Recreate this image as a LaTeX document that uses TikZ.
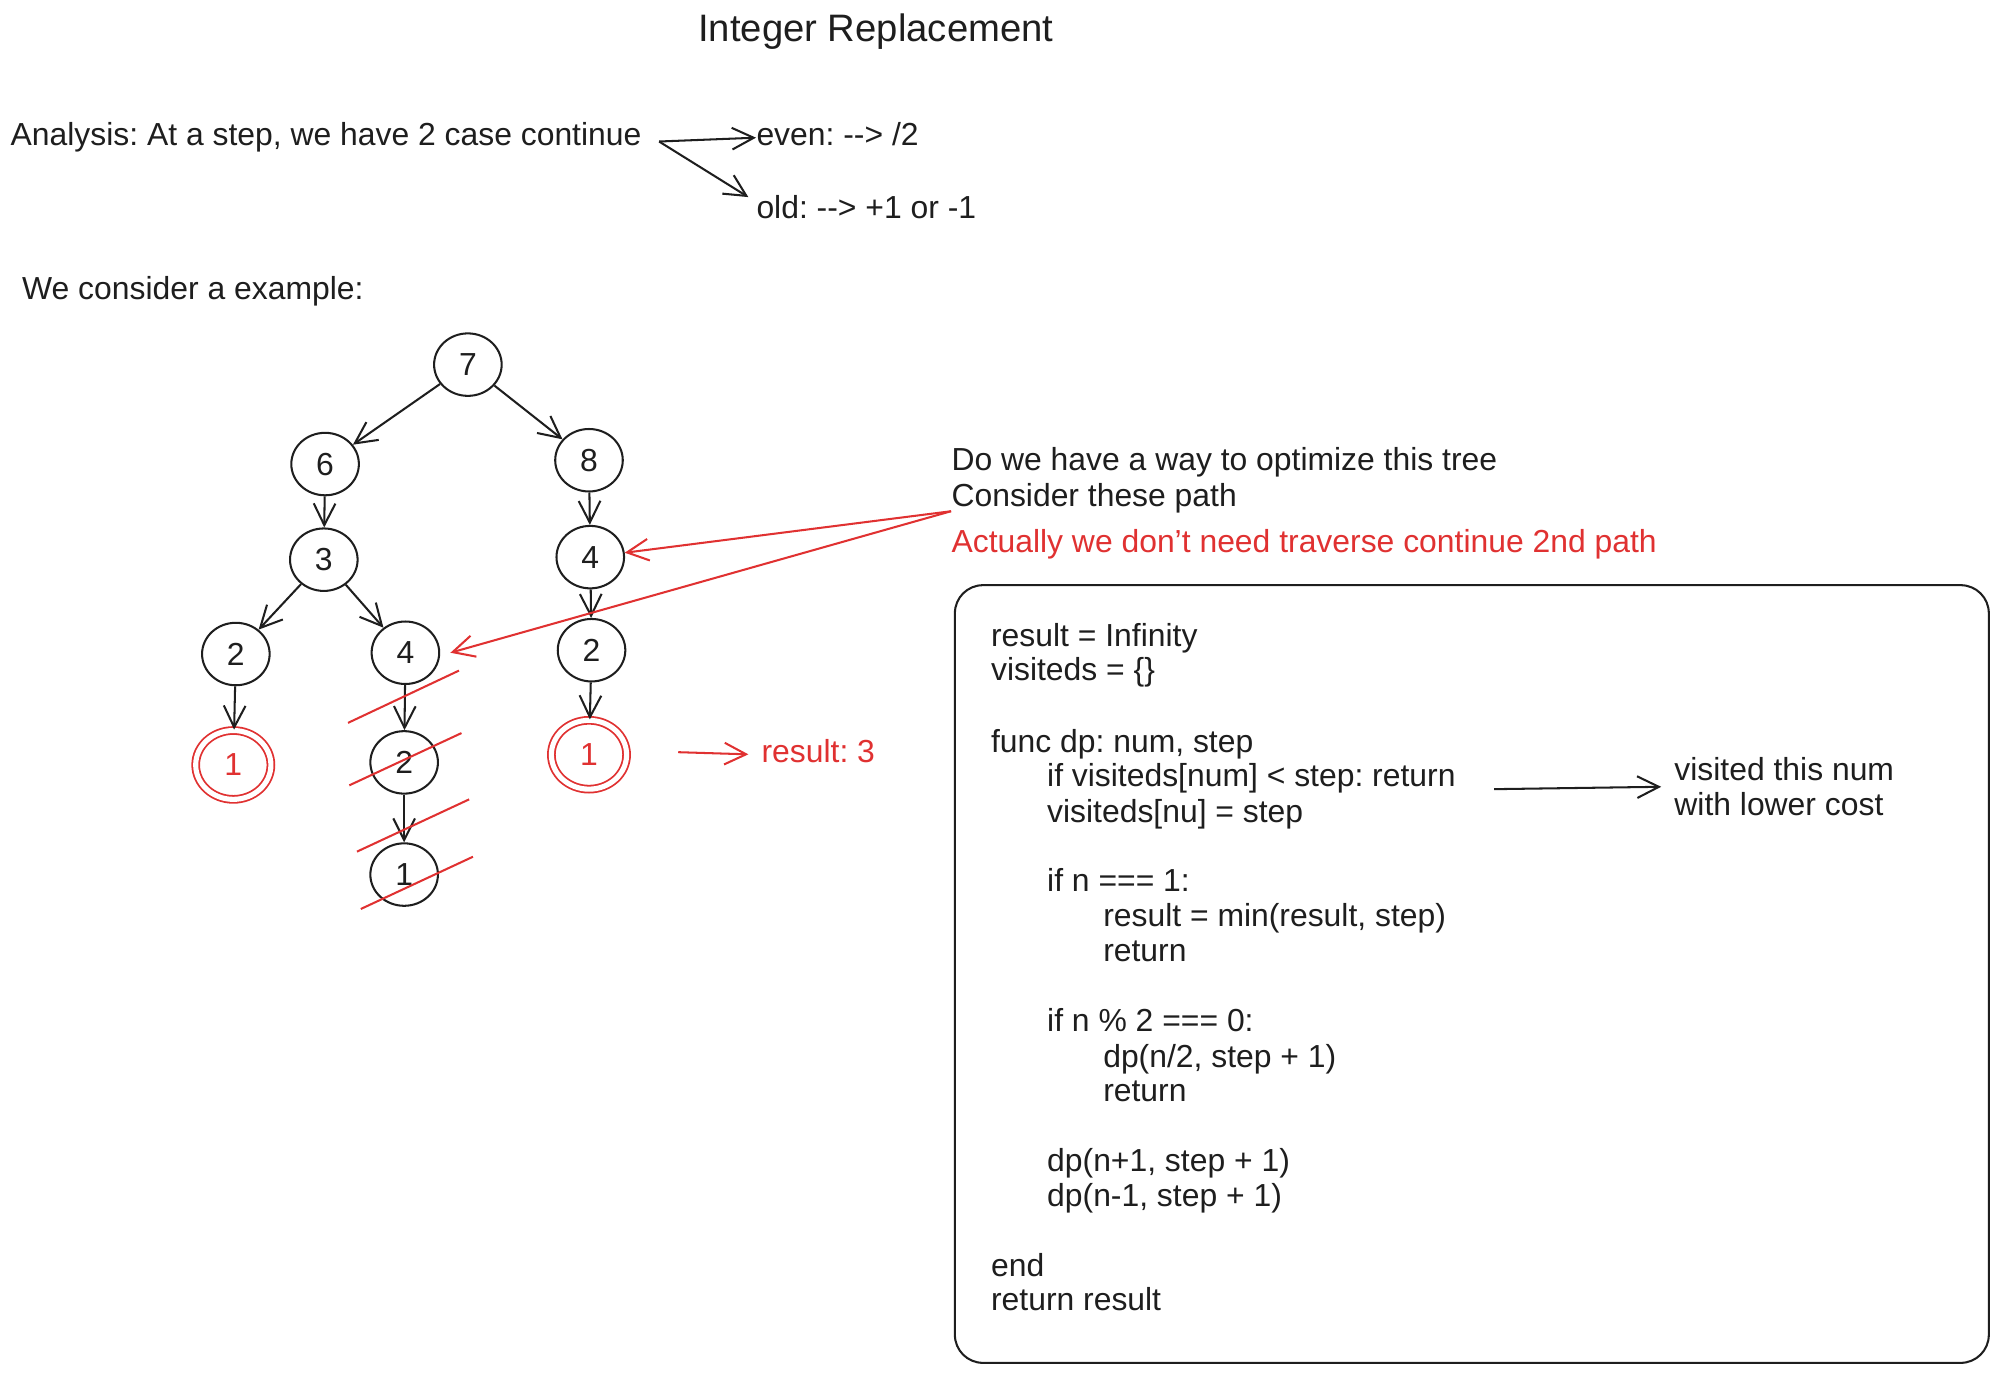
\documentclass[tikz,border=0pt]{standalone}
\usepackage{fontspec}
\setmainfont{Liberation Sans}
\usetikzlibrary{arrows.meta,shapes.geometric}
\definecolor{ink}{HTML}{1E1E1E}
\definecolor{exred}{HTML}{E03131}
\frenchspacing
\tikzset{
  base/.style={font=\fontsize{12.5}{14}\selectfont, text=ink},
  tnode/.style={base, ellipse, draw=ink, line width=0.8pt, minimum width=26.5pt, minimum height=24.5pt, inner sep=0pt},
  rnode/.style={base, ellipse, draw=exred, text=exred, line width=0.7pt, double=white, double distance=2pt, minimum width=29.5pt, minimum height=27pt, inner sep=0pt},
  arr/.style={draw=ink, line width=0.8pt, -{Straight Barb[length=8.5pt,width=8.5pt]}},
  rarr/.style={arr, draw=exred},
  strike/.style={draw=exred, line width=0.8pt},
  txt/.style={base, anchor=west, inner sep=0pt, text height=10pt, text depth=2pt},
  rtxt/.style={txt, text=exred},
}
\begin{document}
\begin{tikzpicture}[x=0.5pt,y=-0.5pt]
\useasboundingbox (0,0) rectangle (1568,1077);
% title
\node[base, font=\fontsize{15}{18}\selectfont] (title) at (687,25) {Integer Replacement};
% analysis
\node[txt] (ana) at (8,106) {Analysis: At a step, we have 2 case continue};
\node[txt] (even) at (593,106) {even: -\kern0pt-> /2};
\node[txt] (old) at (593,163) {old: -\kern0pt-> +1 or -1};
\coordinate (a0) at (517,111);
\draw[arr] (a0) -- ([yshift=-1pt]even.west);
\draw[arr] (a0) -- ([xshift=-3pt,yshift=-2pt]old.north west);
\node[txt] (cons) at (17,227) {We consider a example:};
% tree
\node[tnode] (n7) at (367,286) {7};
\node[tnode] (n6) at (255,364) {6};
\node[tnode] (n8) at (462,361) {8};
\node[tnode] (n3) at (254,439) {3};
\node[tnode] (n4r) at (463,437) {4};
\node[tnode] (n2l) at (185,513) {2};
\node[tnode] (n4m) at (318,512) {4};
\node[tnode] (n2r) at (464,510) {2};
\node[rnode] (n1l) at (183,600) {1};
\node[tnode] (n2m) at (317,598) {2};
\node[rnode] (n1r) at (462,592) {1};
\node[tnode] (n1b) at (317,686) {1};
\draw[arr] (n7) -- (n6);
\draw[arr] (n7) -- (n8);
\draw[arr] (n6) -- (n3);
\draw[arr] (n8) -- (n4r);
\draw[arr] (n3) -- (n2l);
\draw[arr] (n3) -- (n4m);
\draw[arr] (n4r) -- (n2r);
\draw[arr] (n2l) -- (n1l);
\draw[arr] (n4m) -- (n2m);
\draw[arr] (n2r) -- (n1r);
\draw[arr] (n2m) -- (n1b);
% strikes
\draw[strike] (273,567) -- (360,526);
\draw[strike] (274,616) -- (362,575);
\draw[strike] (280,668) -- (368,627);
\draw[strike] (283,713) -- (371,672);
% question text
\node[txt] (q1) at (746,361) {Do we have a way to optimize this tree};
\node[txt] (q2) at (746,389) {Consider these path};
\node[rtxt] (q3) at (746,425) {Actually we don't need traverse continue 2nd path};
\coordinate (rs) at (746,401);
\draw[rarr] (rs) -- (n4r);
\draw[rarr] (rs) -- ([xshift=4pt]n4m.east);
% result
\node[rtxt] (res) at (597,590) {result: 3};
\coordinate (r0) at (532,590);
\draw[rarr, shorten >=5pt] (r0) -- ([yshift=-1pt]res.west);
% code box
\node[draw=ink, line width=0.8pt, rounded corners=11pt, minimum width=405.5pt, minimum height=305pt, inner sep=0pt] (box) at (1154.5,764) {};
\node[txt] (c1) at (777,499) {result = Infinity};
\node[txt] (c2) at (777,526) {visiteds = \{\}};
\node[txt] (c3) at (777,582) {func dp: num, step};
\node[txt] (c4) at (821,609) {if visiteds[num] < step: return};
\node[txt] (c5) at (821,637) {visiteds[nu] = step};
\node[txt] (c6) at (821,691) {if n === 1:};
\node[txt] (c7) at (865,719) {result = min(result, step)};
\node[txt] (c8) at (865,746) {return};
\node[txt] (c9) at (821,801) {if n \% 2 === 0:};
\node[txt] (c10) at (865,829) {dp(n/2, step + 1)};
\node[txt] (c11) at (865,856) {return};
\node[txt] (c12) at (821,911) {dp(n+1, step + 1)};
\node[txt] (c13) at (821,938) {dp(n-1, step + 1)};
\node[txt] (c14) at (777,993) {end};
\node[txt] (c15) at (777,1020) {return result};
% visited note
\node[base, anchor=west, inner sep=0pt, align=left] (vis) at (1313,617) {visited this num\\with lower cost};
\coordinate (c0) at (1172,619);
\draw[arr, shorten >=5pt] (c0) -- (vis.west);
\end{tikzpicture}
\end{document}
